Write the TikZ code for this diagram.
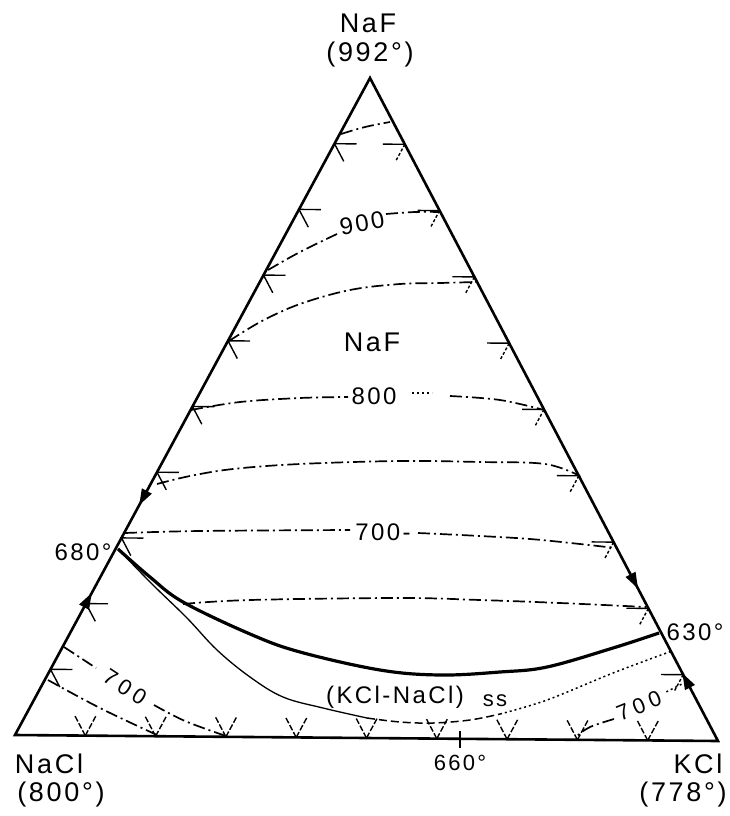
\documentclass[tikz,border=0pt]{standalone}
\usepackage{fontspec}
\setmainfont{Liberation Sans}[LetterSpace=10]
\usetikzlibrary{calc,arrows.meta}
\begin{document}
\begin{tikzpicture}[x=1pt,y=-1pt,
  edge/.style={line width=2.6pt,line join=miter},
  tick/.style={line width=1.4pt},
  bold/.style={line width=3.2pt},
  thinline/.style={line width=1.3pt},
  iso/.style={line width=1.7pt,dash pattern=on 12pt off 4pt on 2pt off 4pt},
  dotline/.style={line width=1.5pt,dash pattern=on 2pt off 3pt},
  dashline/.style={line width=1.5pt,dash pattern=on 8pt off 4pt},
  arr/.style={line width=1.2pt,-{Triangle[length=16pt,width=11pt]}},
  big/.style={font=\fontsize{27}{30}\selectfont,inner sep=0pt},
  mid/.style={font=\fontsize{24}{28}\selectfont,inner sep=0pt},
  sm/.style={font=\fontsize{22}{26}\selectfont,inner sep=0pt},
  rot/.style={font=\fontsize{22}{26}\selectfont\addfontfeatures{LetterSpace=22},inner sep=0pt}]
\useasboundingbox (0,0) rectangle (729,816);
\fill[white] (0,0) rectangle (729,816);
\coordinate (A) at (370,78);
\coordinate (L) at (15,735);
\coordinate (R) at (718,741);
\draw[edge] (L) -- (A) -- (R) -- cycle;
% grid ticks
\foreach \i in {1,...,9}{
  \pgfmathsetmacro\a{\i/10}\pgfmathsetmacro\b{1-\a}
  \coordinate (l\i) at (barycentric cs:A=\a,L=\b);
  \coordinate (lh\i) at (barycentric cs:A=\a,R=\b);
  \coordinate (ls\i) at (barycentric cs:L=\b,R=\a);
  \coordinate (r\i) at (barycentric cs:A=\a,R=\b);
  \coordinate (rh\i) at (barycentric cs:A=\a,L=\b);
  \coordinate (rs\i) at (barycentric cs:R=\b,L=\a);
  \coordinate (b\i) at (barycentric cs:L=\b,R=\a);
  \coordinate (bu\i) at (barycentric cs:R=\a,A=\b);
  \coordinate (bv\i) at (barycentric cs:L=\b,A=\a);
  \draw[tick] (l\i) -- ($(l\i)!22pt!(lh\i)$);
  \draw[tick] (l\i) -- ($(l\i)!20pt!(ls\i)$);
  \draw[tick] (r\i) -- ($(r\i)!22pt!(rh\i)$);
  \draw[tick,dash pattern=on 3pt off 2pt] (r\i) -- ($(r\i)!20pt!(rs\i)$);
  \draw[tick,dash pattern=on 6pt off 2pt] (b\i) -- ($(b\i)!24pt!(bu\i)$);
  \draw[tick,dash pattern=on 6pt off 2pt] (b\i) -- ($(b\i)!24pt!(bv\i)$);
}
% arrows along edges
\draw[arr] ($(A)!0.60!(L)$) -- ($(A)!0.650!(L)$);
\draw[arr] ($(A)!0.835!(L)$) -- ($(A)!0.784!(L)$);
\draw[arr] ($(A)!0.72!(R)$) -- ($(A)!0.770!(R)$);
\draw[arr] ($(A)!0.95!(R)$) -- ($(A)!0.898!(R)$);
% eutectic valley
\coordinate (e680) at (118,549);
\coordinate (e630) at (659,633);
\draw[bold] plot[smooth,tension=0.6] coordinates {(118,549) (150,577) (183,602) (250,634) (300,652) (380,670) (440,675) (500,672) (547,667) (613,648) (659,633)};
% solid solution boundary
\draw[thinline] plot[smooth,tension=0.6] coordinates {(118,549) (152,584) (187,618) (217,650) (250,677) (283,697) (323,708) (367,718)};
\draw[dashline] plot[smooth,tension=0.6] coordinates {(367,718) (400,722) (433,723) (470,720) (500,714)};
\draw[dotline] plot[smooth,tension=0.6] coordinates {(500,714) (547,700) (613,673) (672,651)};
% isotherms, NaF field
\draw[iso] plot[smooth,tension=0.6] coordinates {(341,134) (365,127) (390,122)};
\draw[iso] plot[smooth,tension=0.6] coordinates {(268,270) (300,252) (337,234)};
\draw[iso] plot[smooth,tension=0.6] coordinates {(386,214) (415,212) (440,212)};
\draw[iso] plot[smooth,tension=0.6] coordinates {(229,341) (262,321) (300,304) (350,290) (400,284) (440,283) (476,282)};
\draw[iso] plot[smooth,tension=0.6] coordinates {(191,410) (240,402) (300,398) (348,397)};
\draw[dotline] (412,393) -- (432,393);
\draw[iso] plot[smooth,tension=0.6] coordinates {(450,396) (500,400) (544,410)};
\draw[iso] plot[smooth,tension=0.6] coordinates {(157,484) (190,476) (233,469) (300,464) (400,461) (480,462) (545,464) (580,476)};
\draw[iso] plot[smooth,tension=0.6] coordinates {(125,533) (200,531) (350,530)};
\draw[iso] plot[smooth,tension=0.6] coordinates {(418,533) (440,534) (480,536) (530,539) (580,544) (615,548)};
\draw[iso] plot[smooth,tension=0.6] coordinates {(183,604) (250,600) (400,598) (480,600) (560,603) (646,607)};
% NaCl field isotherms
\draw[iso] plot[smooth,tension=0.6] coordinates {(64,647) (96,668)};
\draw[iso] plot[smooth,tension=0.6] coordinates {(154,705) (185,721) (226,736)};
\draw[iso] plot[smooth,tension=0.6] coordinates {(48,680) (100,708) (157,735)};
% KCl field isotherm
\draw[dotline] (686,682) -- (664,693);
\draw[iso] plot[smooth,tension=0.6] coordinates {(614,719) (590,727) (577,736)};
% 660 mark
\coordinate (m660a) at (460,731);
\coordinate (m660b) at (460,748);
\draw[tick] (m660a) -- (m660b);
% labels
\node[big] (tNaF) at (368,23) {NaF};
\node[big] (t992) at (370,55) {(992°)};
\node[big] (tNaCl) at (49,764) {NaCl};
\node[big] (t800) at (61,795) {(800°)};
\node[big] (tKCl) at (698,764) {KCl};
\node[big] (t778) at (683,795) {(778°)};
\node[big] (cNaF) at (372,342) {NaF};
\node[mid,rotate=10] (l900) at (362,223) {900};
\node[mid] (l800) at (374,396) {800};
\node[mid] (l700) at (383,532) {700-};
\node[mid] (l680) at (83,552) {680°};
\node[mid] (l630) at (695,632) {630°};
\node[sm] (l660) at (460,763) {660°};
\node[mid] (lss) at (395,697) {(KCl-NaCl)};
\node[sm] (lss2) at (495,701) {ss};
\node[rot,rotate=-33] (l700a) at (125,687) {700};
\node[rot,rotate=22] (l700b) at (639,706) {700};
\end{tikzpicture}
\end{document}
